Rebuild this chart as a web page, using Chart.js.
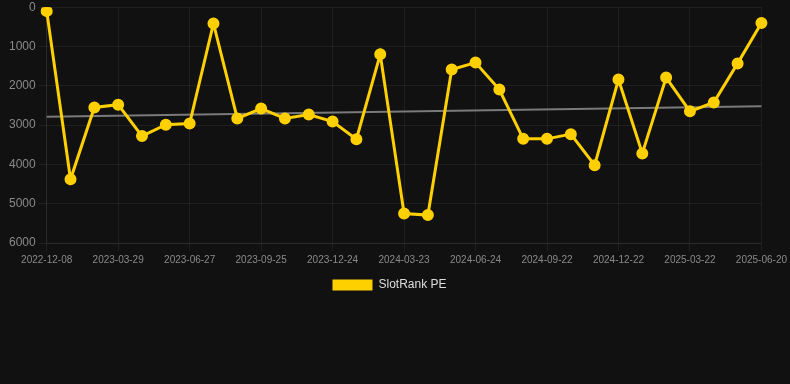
<!DOCTYPE html>
<html>
<head>
<meta charset="utf-8">
<script src="https://cdn.jsdelivr.net/npm/chart.js@4"></script>
<style>
    html, body { margin: 0; padding: 0; background: #111111; overflow: hidden; }
    .chart-container { position: relative; width: 790px; height: 304px; margin-top: -3px; }
</style>
</head>
<body>
<div class="chart-container"><canvas id="chart"></canvas></div>
<script>
const dates = [
    '2022-12-08', '2023-01-14', '2023-02-21', '2023-03-29', '2023-04-28', '2023-05-28',
    '2023-06-27', '2023-07-27', '2023-08-26', '2023-09-25', '2023-10-25', '2023-11-24',
    '2023-12-24', '2024-01-23', '2024-02-22', '2024-03-23', '2024-04-24', '2024-05-24',
    '2024-06-24', '2024-07-24', '2024-08-23', '2024-09-22', '2024-10-22', '2024-11-21',
    '2024-12-22', '2025-01-21', '2025-02-20', '2025-03-22', '2025-04-21', '2025-05-21',
    '2025-06-20'
];

const slotRankPE = [
    100, 4380, 2550, 2480, 3280, 2990, 2960, 415, 2830, 2580, 2830, 2730,
    2910, 3360, 1200, 5250, 5290, 1585, 1410, 2095, 3350, 3350, 3230, 4020,
    1840, 3720, 1790, 2650, 2425, 1430, 400
];

// trend line end points
const trendStart = 2790;
const trendEnd = 2520;

const yTicks = [0, 1000, 2000, 3000, 4000, 5000, 6000];

document.addEventListener('DOMContentLoaded', function() {
    const trendData = dates.map((d, i) => {
        if (i === 0) return trendStart;
        if (i === dates.length - 1) return trendEnd;
        return null;
    });

    const gridColor = 'rgba(255,255,255,0.06)';
    const tickColor = '#8a8a8a';
    const fontFamily = 'Arial, "Liberation Sans", sans-serif';

    new Chart(document.getElementById('chart'), {
        type: 'line',
        data: {
            labels: dates,
            datasets: [
                {
                    label: 'SlotRank PE',
                    data: slotRankPE,
                    borderColor: '#ffd000',
                    backgroundColor: '#ffd000',
                    borderWidth: 3,
                    pointRadius: 4.5,
                    pointHoverRadius: 5,
                    tension: 0,
                    order: 1
                },
                {
                    label: 'Trend',
                    data: trendData,
                    borderColor: '#7a7a7a',
                    backgroundColor: '#7a7a7a',
                    borderWidth: 2,
                    pointRadius: 0,
                    spanGaps: true,
                    order: 2
                }
            ]
        },
        options: {
            responsive: true,
            maintainAspectRatio: false,
            animation: false,
            layout: { padding: { left: 6, right: 17, top: 0, bottom: 0 } },
            plugins: {
                legend: {
                    position: 'bottom',
                    labels: {
                        color: '#dddddd',
                        font: { family: fontFamily, size: 12 },
                        boxWidth: 40,
                        boxHeight: 11,
                        filter: item => item.text !== 'Trend',
                        generateLabels: function(chart) {
                            const items = Chart.defaults.plugins.legend.labels.generateLabels(chart);
                            items.forEach(item => { item.lineWidth = 0; });
                            return items;
                        }
                    }
                },
                tooltip: { enabled: false }
            },
            scales: {
                x: {
                    grid: { color: gridColor },
                    border: { color: gridColor },
                    ticks: {
                        color: tickColor,
                        font: { family: fontFamily, size: 10 },
                        maxRotation: 0,
                        autoSkip: true,
                        maxTicksLimit: 11
                    }
                },
                y: {
                    reverse: true,
                    min: yTicks[0],
                    max: yTicks[yTicks.length - 1],
                    grid: { color: gridColor },
                    border: { color: gridColor },
                    ticks: {
                        color: tickColor,
                        font: { family: fontFamily, size: 12 },
                        stepSize: 1000,
                        callback: value => String(value)
                    }
                }
            }
        }
    });
});
</script>
</body>
</html>
